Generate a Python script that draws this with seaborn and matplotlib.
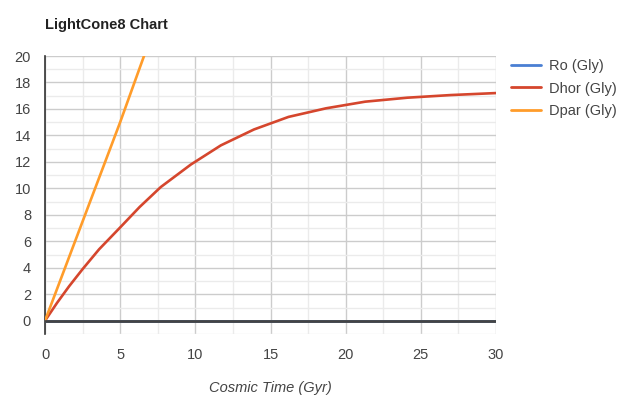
import matplotlib
matplotlib.use("Agg")
import matplotlib.pyplot as plt
import seaborn as sns
import pandas as pd
import numpy as np
from matplotlib.ticker import MultipleLocator

# Data
time_gyr = [0, 0.8, 1.6, 2.5, 3.6, 5.0, 6.3, 7.7, 9.7, 11.7, 13.9, 16.2, 18.7, 21.3, 24.1, 27.0, 30.0]
ro_gly   = [0, 0, 0, 0, 0, 0, 0, 0, 0, 0, 0, 0, 0, 0, 0, 0, 0]
dhor_gly = [0, 1.35, 2.6, 3.9, 5.4, 7.05, 8.6, 10.1, 11.8, 13.25, 14.45, 15.4, 16.05, 16.55, 16.85, 17.05, 17.2]
dpar_gly = [0, 2.4, 4.8, 7.5, 10.8, 15.0, 19.1, 23.5, 29.5, 35.0, 40.5, 46.0, 51.0, 56.0, 61.0, 66.0, 71.0]
series_names = ["Ro (Gly)", "Dhor (Gly)", "Dpar (Gly)"]
series_colors = ["#4a7fd3", "#d5462d", "#ff9c2a"]

rows = []
for name, vals in zip(series_names, [ro_gly, dhor_gly, dpar_gly]):
    for t, v in zip(time_gyr, vals):
        rows.append({"t": t, "v": v, "series": name})
df = pd.DataFrame(rows)

sns.set_style("white")
plt.rcParams['font.family'] = ['Arial', 'Liberation Sans', 'DejaVu Sans']

fig = plt.figure(figsize=(6.19, 4.0), dpi=100)
ax = fig.add_axes([45/619, 1-334/400, (496-45)/619, (334-56)/400])

sns.lineplot(data=df, x="t", y="v", hue="series", palette=dict(zip(series_names, series_colors)),
             hue_order=series_names, ax=ax, linewidth=1.9, legend=False, zorder=3)

ax.set_xlim(0, 30)
ax.set_ylim(-1, 20)
ax.xaxis.set_major_locator(MultipleLocator(5))
ax.xaxis.set_minor_locator(MultipleLocator(2.5))
ax.yaxis.set_major_locator(MultipleLocator(2))
ax.yaxis.set_minor_locator(MultipleLocator(1))
ax.grid(which="major", color="#cccccc", linewidth=1.0, zorder=0)
ax.grid(which="minor", color="#ebebeb", linewidth=1.0, zorder=0)
ax.set_axisbelow(True)
ax.tick_params(which="both", length=0)
ax.tick_params(axis="both", labelsize=10.5, labelcolor="#444444")
ax.tick_params(axis="x", pad=10)
ax.tick_params(axis="y", pad=10)

for s in ["top", "right", "bottom"]:
    ax.spines[s].set_visible(False)
ax.spines["left"].set_color("#333333")
ax.spines["left"].set_linewidth(1.2)
ax.axhline(0, color="#444444", linewidth=2.0, zorder=4)

ax.set_xlabel("Cosmic Time (Gyr)", fontsize=10.5, style="italic", color="#444444", labelpad=14)
ax.set_ylabel("")

fig.text(45/619, 1-25/400, "LightCone8 Chart", fontsize=10.5, fontweight="bold",
         color="#222222", ha="left", va="center")

handles = [plt.Line2D([0], [0], color=c, linewidth=2) for c in series_colors]
leg = fig.legend(handles, series_names, loc="upper left", bbox_to_anchor=(505/619, 1-53/400),
                 frameon=False, fontsize=10.5, handlelength=2.1, handletextpad=0.5,
                 labelspacing=0.6, borderaxespad=0)
for t in leg.get_texts():
    t.set_color("#444444")

fig.savefig("out.png", dpi=100)
